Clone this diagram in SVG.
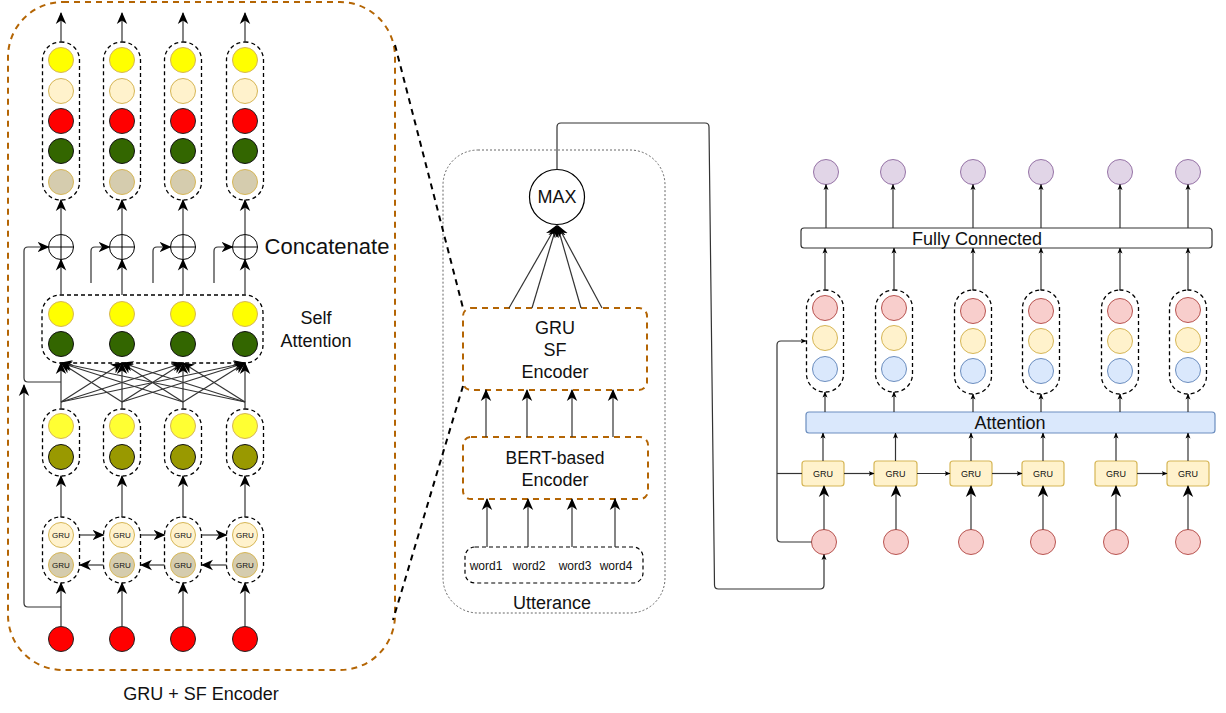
<svg xmlns="http://www.w3.org/2000/svg" width="1226" height="713" viewBox="0 0 1226 713">
<defs>
<marker id="big" viewBox="0 0 12 12" refX="11" refY="6" markerWidth="12" markerHeight="12" markerUnits="userSpaceOnUse" orient="auto">
<path d="M0,0.8 L12,6 L0,11.2 L3.5,6 z" fill="#000"/>
</marker>
<marker id="sm" viewBox="0 0 6 6" refX="5.5" refY="3" markerWidth="6" markerHeight="6" markerUnits="userSpaceOnUse" orient="auto">
<path d="M0,0.5 L6,3 L0,5.5 L1.6,3 z" fill="#000"/>
</marker>
<style>
text{font-family:"Liberation Sans",Arial,sans-serif;fill:#111;text-anchor:middle;dominant-baseline:central}
.cap{fill:none;stroke:#000;stroke-width:1.3;stroke-dasharray:4 3}
.brown{fill:none;stroke:#b46504;stroke-width:2;stroke-dasharray:6 5}
.bdash{fill:none;stroke:#000;stroke-width:2;stroke-dasharray:6 5}
.ln{fill:none;stroke:#333;stroke-width:1.2}
.lb{fill:none;stroke:#333;stroke-width:1.2;marker-end:url(#big)}
.ls{fill:none;stroke:#333;stroke-width:1.2;marker-end:url(#sm)}
.yel{fill:#ffff00;stroke:#d6b656}
.yel2{fill:#ffff33;stroke:#d6b656}
.cream{fill:#fff2cc;stroke:#d6b656}
.red{fill:#ff0000;stroke:#222}
.green{fill:#336600;stroke:#111}
.olive{fill:#999900;stroke:#111}
.tan{fill:#d5ccae;stroke:#d6b656}
.plus{fill:#fff;stroke:#000;stroke-width:1}
.pink{fill:#f8cecc;stroke:#b85450}
.blue{fill:#dae8fc;stroke:#6c8ebf}
.purple{fill:#e1d5e7;stroke:#9673a6}
.gbox{fill:#fff2cc;stroke:#d6b656;stroke-width:1.2}
</style>
</defs>

<!-- ================= LEFT PANEL ================= -->
<g id="gru-sf-panel">
<rect class="brown" x="8" y="2" width="387" height="668" rx="55"/>
<text x="201" y="694" font-size="18">GRU + SF Encoder</text>
</g>

<g id="output-capsules">
<rect class="cap" x="42.5" y="42" width="37" height="158" rx="18"/>
<rect class="cap" x="103.5" y="42" width="37" height="158" rx="18"/>
<rect class="cap" x="164.5" y="42" width="37" height="158" rx="18"/>
<rect class="cap" x="226.5" y="42" width="37" height="158" rx="18"/>
<g>
<circle class="yel" cx="61" cy="60" r="12.5"/><circle class="cream" cx="61" cy="91" r="12.5"/><circle class="red" cx="61" cy="121" r="12.5"/><circle class="green" cx="61" cy="151" r="12.5"/><circle class="tan" cx="61" cy="182" r="12.5"/>
<circle class="yel" cx="122" cy="60" r="12.5"/><circle class="cream" cx="122" cy="91" r="12.5"/><circle class="red" cx="122" cy="121" r="12.5"/><circle class="green" cx="122" cy="151" r="12.5"/><circle class="tan" cx="122" cy="182" r="12.5"/>
<circle class="yel" cx="183" cy="60" r="12.5"/><circle class="cream" cx="183" cy="91" r="12.5"/><circle class="red" cx="183" cy="121" r="12.5"/><circle class="green" cx="183" cy="151" r="12.5"/><circle class="tan" cx="183" cy="182" r="12.5"/>
<circle class="yel" cx="245" cy="60" r="12.5"/><circle class="cream" cx="245" cy="91" r="12.5"/><circle class="red" cx="245" cy="121" r="12.5"/><circle class="green" cx="245" cy="151" r="12.5"/><circle class="tan" cx="245" cy="182" r="12.5"/>
</g>
</g>

<g id="concatenate">
<g class="plus">
<circle cx="61" cy="247" r="12.5"/><path d="M48.5,247 H73.5 M61,234.5 V259.5"/>
<circle cx="122" cy="247" r="12.5"/><path d="M109.5,247 H134.5 M122,234.5 V259.5"/>
<circle cx="183" cy="247" r="12.5"/><path d="M170.5,247 H195.5 M183,234.5 V259.5"/>
<circle cx="245" cy="247" r="12.5"/><path d="M232.5,247 H257.5 M245,234.5 V259.5"/>
</g>
<text x="327" y="246" font-size="22">Concatenate</text>
</g>

<g id="self-attention">
<rect class="cap" x="42" y="295" width="221" height="68" rx="18"/>
<circle class="yel" cx="61" cy="314" r="12.5"/><circle class="green" cx="61" cy="344" r="12.5"/>
<circle class="yel" cx="122" cy="314" r="12.5"/><circle class="green" cx="122" cy="344" r="12.5"/>
<circle class="yel" cx="183" cy="314" r="12.5"/><circle class="green" cx="183" cy="344" r="12.5"/>
<circle class="yel" cx="245" cy="314" r="12.5"/><circle class="green" cx="245" cy="344" r="12.5"/>
<text x="316" y="318" font-size="18">Self</text>
<text x="316" y="341" font-size="18">Attention</text>
</g>

<g id="gru-outputs">
<rect class="cap" x="42.5" y="409" width="37" height="67" rx="18"/>
<rect class="cap" x="103.5" y="409" width="37" height="67" rx="18"/>
<rect class="cap" x="164.5" y="409" width="37" height="67" rx="18"/>
<rect class="cap" x="226.5" y="409" width="37" height="67" rx="18"/>
<circle class="yel2" cx="61" cy="426" r="12.5"/><circle class="olive" cx="61" cy="457" r="12.5"/>
<circle class="yel2" cx="122" cy="426" r="12.5"/><circle class="olive" cx="122" cy="457" r="12.5"/>
<circle class="yel2" cx="183" cy="426" r="12.5"/><circle class="olive" cx="183" cy="457" r="12.5"/>
<circle class="yel2" cx="245" cy="426" r="12.5"/><circle class="olive" cx="245" cy="457" r="12.5"/>
</g>

<g id="bigru">
<rect class="cap" x="42.5" y="517" width="37" height="66" rx="18"/>
<rect class="cap" x="103.5" y="517" width="37" height="66" rx="18"/>
<rect class="cap" x="164.5" y="517" width="37" height="66" rx="18"/>
<rect class="cap" x="226.5" y="517" width="37" height="66" rx="18"/>
<circle class="cream" cx="61" cy="535" r="12.5"/><circle class="tan" cx="61" cy="565" r="12.5"/>
<circle class="cream" cx="122" cy="535" r="12.5"/><circle class="tan" cx="122" cy="565" r="12.5"/>
<circle class="cream" cx="183" cy="535" r="12.5"/><circle class="tan" cx="183" cy="565" r="12.5"/>
<circle class="cream" cx="245" cy="535" r="12.5"/><circle class="tan" cx="245" cy="565" r="12.5"/>
<g font-size="8">
<text x="61" y="535" font-size="8">GRU</text><text x="61" y="565" font-size="8">GRU</text>
<text x="122" y="535" font-size="8">GRU</text><text x="122" y="565" font-size="8">GRU</text>
<text x="183" y="535" font-size="8">GRU</text><text x="183" y="565" font-size="8">GRU</text>
<text x="245" y="535" font-size="8">GRU</text><text x="245" y="565" font-size="8">GRU</text>
</g>
</g>

<g id="inputs">
<circle class="red" cx="61" cy="639" r="12.5"/>
<circle class="red" cx="122" cy="639" r="12.5"/>
<circle class="red" cx="183" cy="639" r="12.5"/>
<circle class="red" cx="245" cy="639" r="12.5"/>
</g>

<!-- ================= MIDDLE ================= -->
<g id="utterance">
<rect x="443" y="150" width="222" height="463" rx="35" fill="none" stroke="#666" stroke-width="1" stroke-dasharray="2 2"/>
<text x="552" y="603" font-size="18">Utterance</text>
</g>
<g id="max">
<circle cx="557" cy="197" r="27.5" fill="#fff" stroke="#000" stroke-width="1.2"/>
<text x="557" y="197" font-size="18">MAX</text>
</g>
<g id="gru-sf-encoder">
<rect class="brown" x="463" y="308" width="184" height="82" rx="8"/>
<text x="555" y="328" font-size="18">GRU</text>
<text x="555" y="350" font-size="18">SF</text>
<text x="555" y="372" font-size="18">Encoder</text>
</g>
<g id="bert-encoder">
<rect class="brown" x="463" y="437" width="185" height="62" rx="8"/>
<text x="555" y="458" font-size="17.5">BERT-based</text>
<text x="555" y="480" font-size="18">Encoder</text>
</g>
<g id="words">
<rect x="465" y="547" width="178" height="36" rx="10" fill="none" stroke="#000" stroke-width="1.2" stroke-dasharray="4 3"/>
<text x="486" y="566" font-size="12">word1</text>
<text x="529" y="566" font-size="12">word2</text>
<text x="575" y="566" font-size="12">word3</text>
<text x="616" y="566" font-size="12">word4</text>
</g>

<!-- ================= RIGHT ================= -->
<g id="outputs-right">
<circle class="purple" cx="826" cy="172" r="12.5"/>
<circle class="purple" cx="893" cy="172" r="12.5"/>
<circle class="purple" cx="973" cy="172" r="12.5"/>
<circle class="purple" cx="1041" cy="172" r="12.5"/>
<circle class="purple" cx="1120" cy="172" r="12.5"/>
<circle class="purple" cx="1188" cy="172" r="12.5"/>
</g>
<g id="fully-connected">
<rect x="801" y="228" width="411" height="20" rx="3" fill="#fff" stroke="#333" stroke-width="1.2"/>
<text x="977" y="238.5" font-size="18">Fully Connected</text>
</g>
<g id="right-capsules">
<rect class="cap" x="806.5" y="290" width="37" height="102" rx="18"/>
<rect class="cap" x="875.5" y="290" width="37" height="102" rx="18"/>
<rect class="cap" x="954.5" y="290" width="37" height="104" rx="18"/>
<rect class="cap" x="1022.5" y="290" width="37" height="104" rx="18"/>
<rect class="cap" x="1101.5" y="290" width="37" height="104" rx="18"/>
<rect class="cap" x="1169.5" y="290" width="37" height="104" rx="18"/>
<circle class="pink" cx="825" cy="308" r="12.5"/><circle class="cream" cx="825" cy="338" r="12.5"/><circle class="blue" cx="825" cy="369" r="12.5"/>
<circle class="pink" cx="894" cy="308" r="12.5"/><circle class="cream" cx="894" cy="338" r="12.5"/><circle class="blue" cx="894" cy="369" r="12.5"/>
<circle class="pink" cx="973" cy="311" r="12.5"/><circle class="cream" cx="973" cy="341" r="12.5"/><circle class="blue" cx="973" cy="371" r="12.5"/>
<circle class="pink" cx="1041" cy="311" r="12.5"/><circle class="cream" cx="1041" cy="341" r="12.5"/><circle class="blue" cx="1041" cy="371" r="12.5"/>
<circle class="pink" cx="1120" cy="311" r="12.5"/><circle class="cream" cx="1120" cy="341" r="12.5"/><circle class="blue" cx="1120" cy="371" r="12.5"/>
<circle class="pink" cx="1188" cy="310" r="12.5"/><circle class="cream" cx="1188" cy="340" r="12.5"/><circle class="blue" cx="1188" cy="370" r="12.5"/>
</g>
<g id="attention">
<rect x="806" y="412" width="409" height="21" rx="3" fill="#dae8fc" stroke="#6c8ebf" stroke-width="1.2"/>
<text x="1010" y="422.5" font-size="18">Attention</text>
</g>
<g id="gru-right">
<rect class="gbox" x="802" y="461" width="42" height="25" rx="3"/><text x="823" y="473.5" font-size="9">GRU</text>
<rect class="gbox" x="874" y="461" width="43" height="25" rx="3"/><text x="895.5" y="473.5" font-size="9">GRU</text>
<rect class="gbox" x="950" y="461" width="42" height="25" rx="3"/><text x="971" y="473.5" font-size="9">GRU</text>
<rect class="gbox" x="1022" y="461" width="42" height="25" rx="3"/><text x="1043" y="473.5" font-size="9">GRU</text>
<rect class="gbox" x="1095" y="461" width="42" height="25" rx="3"/><text x="1116" y="473.5" font-size="9">GRU</text>
<rect class="gbox" x="1167" y="461" width="42" height="25" rx="3"/><text x="1188" y="473.5" font-size="9">GRU</text>
</g>
<g id="inputs-right">
<circle class="pink" cx="824" cy="542" r="12.5"/>
<circle class="pink" cx="896" cy="542" r="12.5"/>
<circle class="pink" cx="971" cy="542" r="12.5"/>
<circle class="pink" cx="1043" cy="542" r="12.5"/>
<circle class="pink" cx="1116" cy="542" r="12.5"/>
<circle class="pink" cx="1188" cy="542" r="12.5"/>
</g>

<!-- ================= CONNECTORS ================= -->
<g id="connectors">
<!-- zoom lines -->
<path class="bdash" d="M395,45 L463,308"/>
<path class="bdash" d="M463,386 L393,620"/>
<!-- left panel: top outputs -->
<path class="lb" d="M61,42 V13"/><path class="lb" d="M122,42 V13"/><path class="lb" d="M183,42 V13"/><path class="lb" d="M245,42 V13"/>
<!-- plus to capsules -->
<path class="lb" d="M61,234.5 V200"/><path class="lb" d="M122,234.5 V200"/><path class="lb" d="M183,234.5 V200"/><path class="lb" d="M245,234.5 V200"/>
<!-- self attention to plus -->
<path class="lb" d="M61,295 V259.5"/><path class="lb" d="M122,295 V259.5"/><path class="lb" d="M183,295 V259.5"/><path class="lb" d="M245,295 V259.5"/>
<!-- skip connections to plus -->
<path class="lb" d="M61,382 H28 Q24,382 24,378 V251 Q24,247 28,247 H48.5"/>
<path class="lb" d="M91,283 V251 Q91,247 95,247 H109.5"/>
<path class="lb" d="M153,283 V251 Q153,247 157,247 H170.5"/>
<path class="lb" d="M214,283 V251 Q214,247 218,247 H232.5"/>
<path class="lb" d="M61,607 H28 Q24,607 24,603 V385"/>
<!-- self attention inputs -->
<path class="lb" d="M61,409 V363"/><path class="lb" d="M122,409 V363"/><path class="lb" d="M183,409 V363"/><path class="lb" d="M245,409 V363"/>
<path class="lb" d="M61,402 L122,363"/><path class="lb" d="M61,402 L183,363"/><path class="lb" d="M61,402 L245,363"/>
<path class="lb" d="M122,402 L61,363"/><path class="lb" d="M122,402 L183,363"/><path class="lb" d="M122,402 L245,363"/>
<path class="lb" d="M183,402 L61,363"/><path class="lb" d="M183,402 L122,363"/><path class="lb" d="M183,402 L245,363"/>
<path class="lb" d="M245,402 L61,363"/><path class="lb" d="M245,402 L122,363"/><path class="lb" d="M245,402 L183,363"/>
<!-- gru to outputs -->
<path class="lb" d="M61,517 V476"/><path class="lb" d="M122,517 V476"/><path class="lb" d="M183,517 V476"/><path class="lb" d="M245,517 V476"/>
<!-- gru forward/backward -->
<path class="lb" d="M79.5,535 H103.5"/><path class="lb" d="M140.5,535 H164.5"/><path class="lb" d="M201.5,535 H226.5"/>
<path class="lb" d="M103.5,565 H80"/><path class="lb" d="M164.5,565 H141"/><path class="lb" d="M226.5,565 H202"/>
<!-- inputs to gru -->
<path class="lb" d="M61,626.5 V583"/><path class="lb" d="M122,626.5 V583"/><path class="lb" d="M183,626.5 V583"/><path class="lb" d="M245,626.5 V583"/>

<!-- middle -->
<path class="lb" d="M509,308 L556,226"/><path class="lb" d="M532,308 L556.5,226"/><path class="lb" d="M581,308 L557.5,226"/><path class="lb" d="M602,308 L558,226"/>
<path class="lb" d="M486,437 V390"/><path class="lb" d="M527,437 V390"/><path class="lb" d="M572,437 V390"/><path class="lb" d="M613,437 V390"/>
<path class="lb" d="M487,547 V499"/><path class="lb" d="M528,547 V499"/><path class="lb" d="M572,547 V499"/><path class="lb" d="M615,547 V499"/>
<path class="ls" d="M557,169.5 V127 Q557,123 561,123 H705 Q709,123 709,127 L714.5,585 Q714.5,589 718.5,589 H820 Q824,589 824,585 V554.5"/>

<!-- right -->
<path class="ls" d="M826,228 V184.5"/><path class="ls" d="M893,228 V184.5"/><path class="ls" d="M973,228 V184.5"/><path class="ls" d="M1041,228 V184.5"/><path class="ls" d="M1120,228 V184.5"/><path class="ls" d="M1188,228 V184.5"/>
<path class="ls" d="M825,290 V248"/><path class="ls" d="M894,290 V248"/><path class="ls" d="M973,290 V248"/><path class="ls" d="M1041,290 V248"/><path class="ls" d="M1120,290 V248"/><path class="ls" d="M1188,290 V248"/>
<path class="ls" d="M825,412 V392"/><path class="ls" d="M894,412 V392"/><path class="ls" d="M973,412 V394"/><path class="ls" d="M1041,412 V394"/><path class="ls" d="M1120,412 V394"/><path class="ls" d="M1188,412 V394"/>
<path class="ls" d="M823,461 V433"/><path class="ls" d="M895.5,461 V433"/><path class="ls" d="M971,461 V433"/><path class="ls" d="M1043,461 V433"/><path class="ls" d="M1116,461 V433"/><path class="ls" d="M1188,461 V433"/>
<path class="ls" d="M844,473.5 H874"/><path class="ls" d="M917,473.5 H950"/><path class="ls" d="M992,473.5 H1022"/><path class="ls" d="M1137,473.5 H1167"/>
<path class="lb" d="M824,529.5 V486"/><path class="lb" d="M896,529.5 V486"/><path class="lb" d="M971,529.5 V486"/><path class="lb" d="M1043,529.5 V486"/><path class="lb" d="M1116,529.5 V486"/><path class="lb" d="M1188,529.5 V486"/>
<path class="ls" d="M811.5,542 H781 Q777,542 777,538 V345 Q777,341 781,341 H806"/>
<path class="ln" d="M777,473.5 H802"/>
</g>
</svg>
